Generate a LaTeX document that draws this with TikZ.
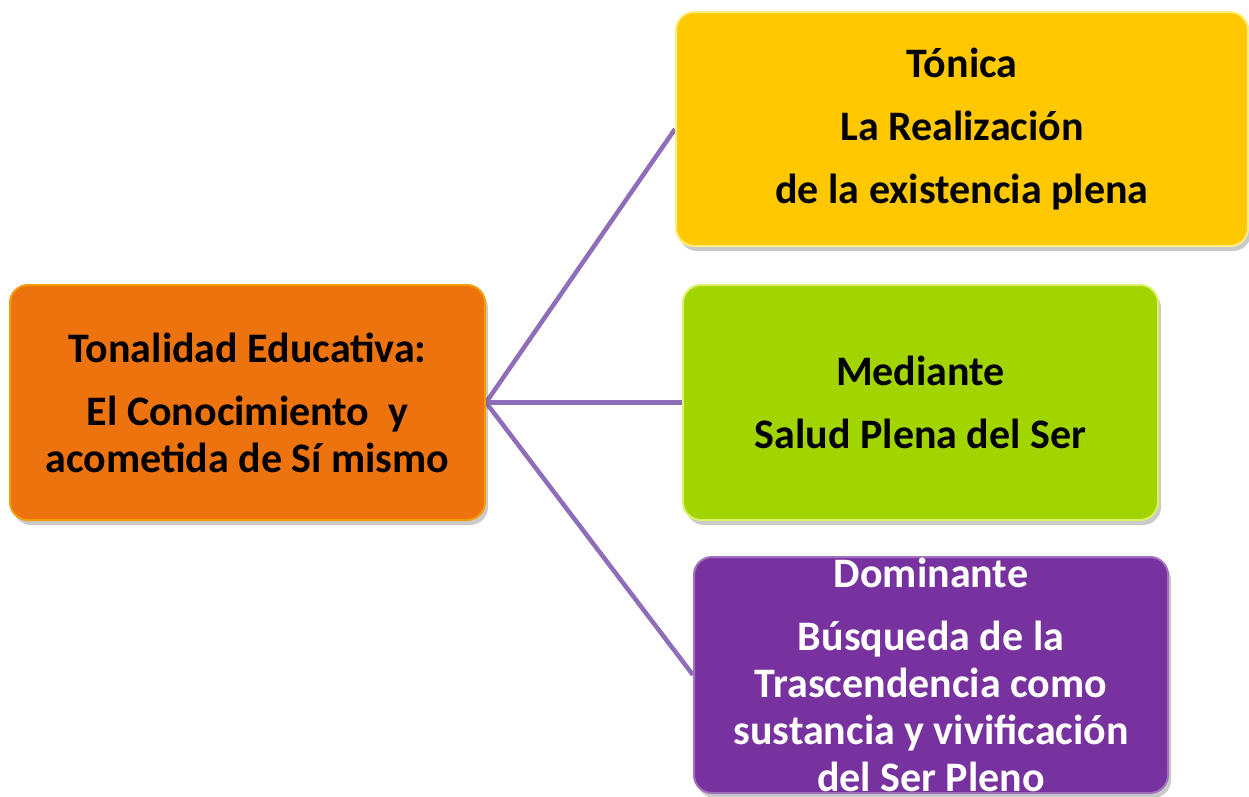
\documentclass[tikz,border=0pt]{standalone}
\usepackage{fontspec}
\setmainfont{Carlito}
\usetikzlibrary{shadows,backgrounds}
\definecolor{orangebox}{RGB}{237,115,14}
\definecolor{yellowbox}{RGB}{255,200,0}
\definecolor{greenbox}{RGB}{162,212,0}
\definecolor{purplebox}{RGB}{120,50,160}
\definecolor{linkcol}{RGB}{142,110,185}
\tikzset{
  box/.style={rectangle, rounded corners=18pt, inner sep=0pt, align=center,
    font=\fontsize{42}{47}\selectfont\bfseries,
    drop shadow={shadow xshift=3pt, shadow yshift=-5pt, opacity=0.35, fill=black!60},
    line width=2pt},
  link/.style={draw=linkcol, line width=4.5pt}
}
\begin{document}
\begin{tikzpicture}[x=1pt,y=-1pt]
\useasboundingbox (0,0) rectangle (1249,796);
\node[box, fill=orangebox, draw=orangebox!70!yellow, minimum width=475pt, minimum height=235pt, text=black] (o) at (247.5,402.5)
  {Tonalidad Educativa:\\[16pt] El Conocimiento~ y\\ acometida de Sí mismo};
\node[box, fill=yellowbox, draw=yellowbox!60!yellow!50!white, minimum width=572pt, minimum height=234pt, text=black] (a) at (962,129)
  {Tónica\\[16pt] La Realización\\[16pt] de la existencia plena};
\node[box, fill=greenbox, draw=greenbox!60!yellow!60!white, minimum width=475pt, minimum height=235pt, text=black] (b) at (920.5,402.5)
  {Mediante\\[16pt] Salud Plena del Ser};
\node[box, fill=purplebox, draw=purplebox!70!white, minimum width=474pt, minimum height=236pt, text=white] (c) at (931,675)
  {Dominante\\[16pt] Búsqueda de la\\ Trascendencia como\\ sustancia y vivificación\\ del Ser Pleno};
\begin{scope}[on background layer]
\draw[link] (o.east) -- (a.west);
\draw[link] (o.east) -- (b.west);
\draw[link] (o.east) -- (c.west);
\end{scope}
\end{tikzpicture}
\end{document}
